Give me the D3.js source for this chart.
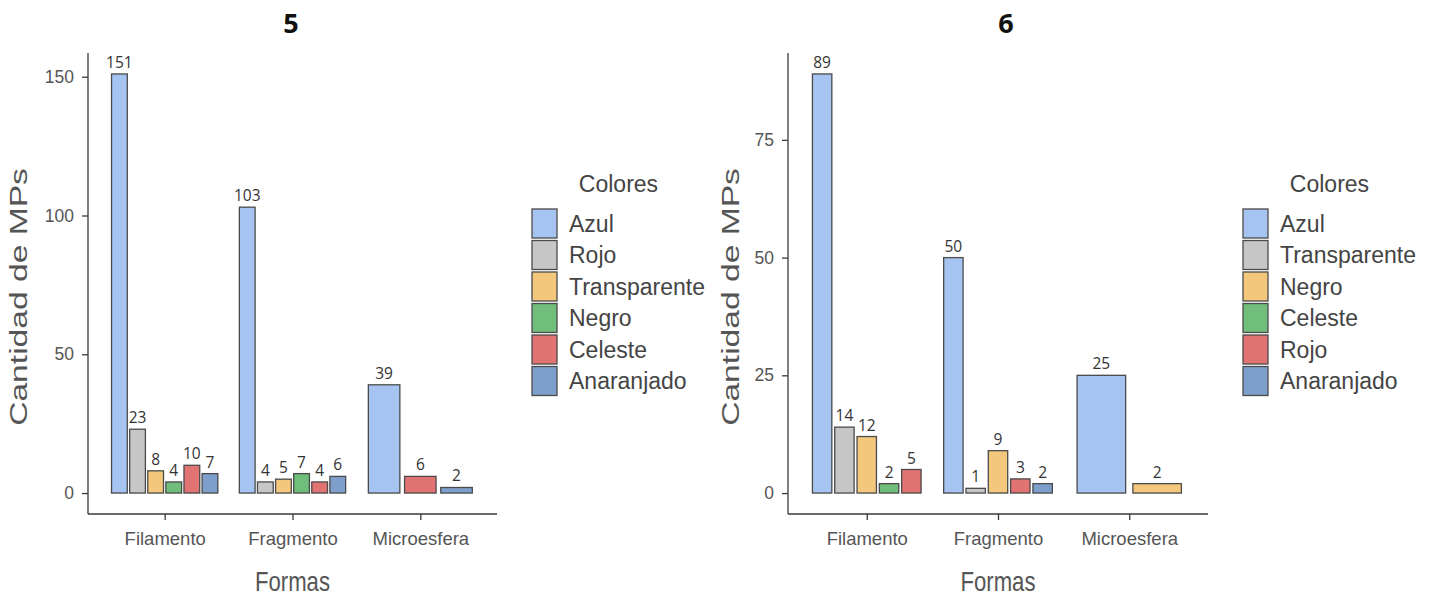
<!DOCTYPE html>
<html><head><meta charset="utf-8">
<script src="https://cdn.jsdelivr.net/npm/d3@7"></script>
<style>body{margin:0;background:#fff}</style></head>
<body>
<svg id="c" width="1435" height="601"></svg>
<script>
// ---- data ----
const categories = ["Filamento", "Fragmento", "Microesfera"];
const titles = ["5", "6"];
const xTitle = "Formas";
const yTitle = "Cantidad de MPs";
const legendTitle = "Colores";

const legend5 = ["Azul", "Rojo", "Transparente", "Negro", "Celeste", "Anaranjado"];
const values5 = [
  [151, 23, 8, 4, 10, 7],
  [103, 4, 5, 7, 4, 6],
  [39, null, null, null, 6, 2]
];
const yTicks5 = [0, 50, 100, 150];

const legend6 = ["Azul", "Transparente", "Negro", "Celeste", "Rojo", "Anaranjado"];
const values6 = [
  [89, 14, 12, 2, 5, null],
  [50, 1, 9, null, 3, 2],
  [25, null, 2, null, null, null]
];
const yTicks6 = [0, 25, 50, 75];

const fills = ["#a6c4f2", "#c6c6c6", "#f4c87c", "#70bd7c", "#e27373", "#7e9fcb"];

// ---- drawing ----
const svg = d3.select("#c");
const FONT = "'Liberation Sans', Arial, sans-serif";

function drawPanel(cfg) {
  const g = svg.append("g");
  const maxV = d3.max(cfg.values.flat().filter(v => v != null));
  const y = d3.scaleLinear().domain([-0.05 * maxV, maxV * 1.05]).range([cfg.yBot, cfg.yTop]);
  const x = d3.scalePoint().domain(categories).range([cfg.x0, cfg.x1]).padding(0.6);
  const step = x.step();
  const groupW = 0.85 * step;
  const pad = 0.13;

  // bars
  categories.forEach((cat, ci) => {
    const items = cfg.values[ci].map((v, si) => ({v, si})).filter(d => d.v != null);
    const n = items.length;
    const slot = groupW / n;
    const inner = d3.scaleBand().domain(items.map(d => d.si)).range([x(cat) - groupW / 2, x(cat) + groupW / 2]);
    const bw = slot * (1 - pad);
    const gg = g.append("g");
    gg.selectAll("rect").data(items).join("rect")
      .attr("x", d => inner(d.si) + (slot - bw) / 2)
      .attr("width", bw)
      .attr("y", d => y(d.v))
      .attr("height", d => y(0) - y(d.v))
      .attr("fill", d => fills[d.si])
      .attr("stroke", "#4a4a4a")
      .attr("stroke-width", 1.3);
    gg.selectAll("text").data(items).join("text")
      .attr("x", d => inner(d.si) + slot / 2)
      .attr("y", d => y(d.v) - 6)
      .attr("text-anchor", "middle")
      .attr("font-family", "'Open Sans', sans-serif")
      .attr("font-size", 15.5)
      .attr("fill", "#333")
      .text(d => d.v);
  });

  // axes
  const axisColor = "#3a3a3a";
  const yAxis = g.append("g").attr("transform", `translate(${cfg.x0},0)`)
    .call(d3.axisLeft(y).tickValues(cfg.yTicks).tickSize(6).tickPadding(8));
  yAxis.select(".domain").attr("d", `M0,${cfg.yTop}V${cfg.yBot}`).attr("stroke", axisColor).attr("stroke-width", 1.3);
  yAxis.selectAll(".tick line").attr("stroke", axisColor).attr("stroke-width", 1.3);
  yAxis.selectAll(".tick text").attr("font-family", FONT).attr("font-size", 17.5).attr("fill", "#555");

  const xAxis = g.append("g").attr("transform", `translate(0,${cfg.yBot})`)
    .call(d3.axisBottom(x).tickSize(6).tickPadding(12));
  xAxis.select(".domain").attr("d", `M${cfg.x0},0H${cfg.x1}`).attr("stroke", axisColor).attr("stroke-width", 1.3);
  xAxis.selectAll(".tick line").attr("stroke", axisColor).attr("stroke-width", 1.3);
  xAxis.selectAll(".tick text").attr("font-family", FONT).attr("font-size", 18.5).attr("fill", "#555");

  // titles
  g.append("text").attr("x", cfg.titleX).attr("y", 33).attr("text-anchor", "middle")
    .attr("font-family", "'Open Sans', sans-serif").attr("font-weight", "bold").attr("font-size", 27)
    .attr("fill", "#111").text(cfg.title);
  g.append("text").attr("transform", `translate(${(cfg.x0 + cfg.x1) / 2},591) scale(0.82,1)`)
    .attr("text-anchor", "middle").attr("font-family", FONT).attr("font-size", 27)
    .attr("fill", "#555").text(xTitle);
  g.append("text").attr("transform", `translate(${cfg.yLabX},297) rotate(-90) scale(1.2,0.86)`)
    .attr("text-anchor", "middle").attr("dy", "0.35em").attr("font-family", FONT).attr("font-size", 28)
    .attr("fill", "#555").text(yTitle);

  // legend
  const lg = g.append("g").attr("transform", `translate(${cfg.legX},209)`);
  const keyW = 25, keyH = 29, pitch = 31.5;
  const items = lg.selectAll("g").data(cfg.legend).join("g")
    .attr("transform", (d, i) => `translate(0,${i * pitch})`);
  items.append("rect").attr("width", keyW).attr("height", keyH)
    .attr("fill", (d, i) => fills[i]).attr("stroke", "#4a4a4a").attr("stroke-width", 1.3);
  items.append("text").attr("x", 37).attr("y", keyH / 2).attr("dy", "0.36em")
    .attr("font-family", FONT).attr("font-size", 23).attr("fill", "#444").text(d => d);
  let maxW = 0;
  items.selectAll("text").each(function () { maxW = Math.max(maxW, this.getComputedTextLength()); });
  lg.append("text").attr("x", (37 + maxW) / 2).attr("y", -17)
    .attr("text-anchor", "middle").attr("font-family", FONT).attr("font-size", 23)
    .attr("fill", "#444").text(legendTitle);
}

drawPanel({values: values5, legend: legend5, yTicks: yTicks5, title: titles[0],
  x0: 88, x1: 497, yTop: 53, yBot: 514, titleX: 291, yLabX: 19, legX: 532});
drawPanel({values: values6, legend: legend6, yTicks: yTicks6, title: titles[1],
  x0: 788, x1: 1208, yTop: 53, yBot: 514, titleX: 1006, yLabX: 731, legX: 1243});
</script>
</body></html>
